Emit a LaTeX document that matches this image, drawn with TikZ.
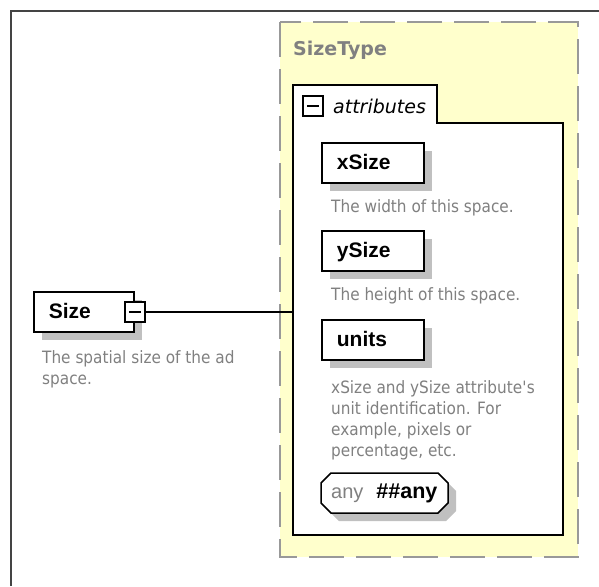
\documentclass[tikz,border=0pt]{standalone}
\usepackage{fontspec}
\setmainfont{Liberation Sans}
\newfontfamily\descfont[FakeStretch=0.9]{DejaVu Sans}
\newfontfamily\dvfont{DejaVu Sans}
\usetikzlibrary{shadows}
\definecolor{yellowbg}{HTML}{FFFFCC}
\definecolor{dashc}{HTML}{999999}
\definecolor{descc}{HTML}{808080}
\definecolor{shadowc}{HTML}{C0C0C0}
\definecolor{framec}{HTML}{444444}
\tikzset{
  elem/.style={draw=black, line width=1.8pt, fill=white, anchor=north west,
    minimum height=40pt, inner xsep=15pt, inner ysep=0pt, text width=72pt,
    text height=14pt, text depth=0pt, align=left,
    font=\fontsize{21}{24}\selectfont\bfseries,
    drop shadow={shadow xshift=8pt, shadow yshift=-8pt, fill=shadowc, opacity=1}},
  desc/.style={anchor=base west, inner sep=0pt, align=left, text=descc,
    font=\descfont\fontsize{17}{21}\selectfont},
  expbox/.style={draw=black, fill=white, line width=1.4pt, minimum size=20pt, inner sep=0pt,
    path picture={\draw[line width=1.4pt] ([xshift=-6pt]path picture bounding box.center) -- ([xshift=6pt]path picture bounding box.center);}},
  conn/.style={draw=black, line width=1.3pt},
  typebox/.style={draw=dashc, fill=yellowbg, line width=1.6pt, dash pattern=on 35pt off 12pt},
  groupline/.style={draw=black, fill=white, line width=1.8pt},
}
\begin{document}
\begin{tikzpicture}[x=1pt,y=-1pt]
\useasboundingbox (0,0) rectangle (599,586);
% outer frame
\draw[framec, line width=1.5pt] (11,586) -- (11,11) -- (599,11);
% complex type box
\draw[typebox] (280,22) rectangle (578,557);
\node[anchor=base west, inner sep=0pt, text=descc, font=\dvfont\fontsize{19}{22}\selectfont\bfseries] (sizetype) at (293,56) {SizeType};
% attributes group
\draw[groupline] (293,85) -- (437,85) -- (437,123) -- (563,123) -- (563,535) -- (293,535) -- cycle;
\node[anchor=north west, minimum width=270pt, minimum height=412pt, inner sep=0pt] (attrs) at (293,123) {};
\node[expbox] (attrexp) at (313,106) {};
\node[anchor=base west, inner sep=0pt, font=\dvfont\itshape\fontsize{19}{22}\selectfont] (attrlabel) at (333,113) {attributes};
% attributes
\node[elem] (xsize) at (321,142) {xSize};
\node[desc] (xsizedesc) at (331,212) {The width of this space.};
\node[elem] (ysize) at (321,230) {ySize};
\node[desc] (ysizedesc) at (331,300) {The height of this space.};
\node[elem] (units) at (321,319) {units};
\node[desc] (unitsdesc) at (331,456) {xSize and ySize attribute\textquotesingle s\\unit identification. For\\example, pixels or\\percentage, etc.};
% any attribute
\fill[shadowc] (339,481) -- (446,481) -- (456,491) -- (456,511) -- (446,521) -- (339,521) -- (329,511) -- (329,491) -- cycle;
\draw[line width=1.5pt, fill=white] (331,473) -- (438,473) -- (448,483) -- (448,503) -- (438,513) -- (331,513) -- (321,503) -- (321,483) -- cycle;
\node[anchor=base west, inner sep=0pt, font=\fontsize{20}{24}\selectfont] (any) at (331,498) {\textcolor{descc}{any}\hspace{13pt}{\bfseries\fontsize{21.5}{24}\selectfont\#\#any}};
% root element
\node[elem, text width=70pt] (size) at (33,291) {Size};
\node[expbox] (sizeexp) at (size.east) {};
\node[desc] (sizedesc) at (42,384) {The spatial size of the ad\\space.};
\draw[conn] (sizeexp.east) -- (sizeexp.east -| attrs.west);
\end{tikzpicture}
\end{document}
